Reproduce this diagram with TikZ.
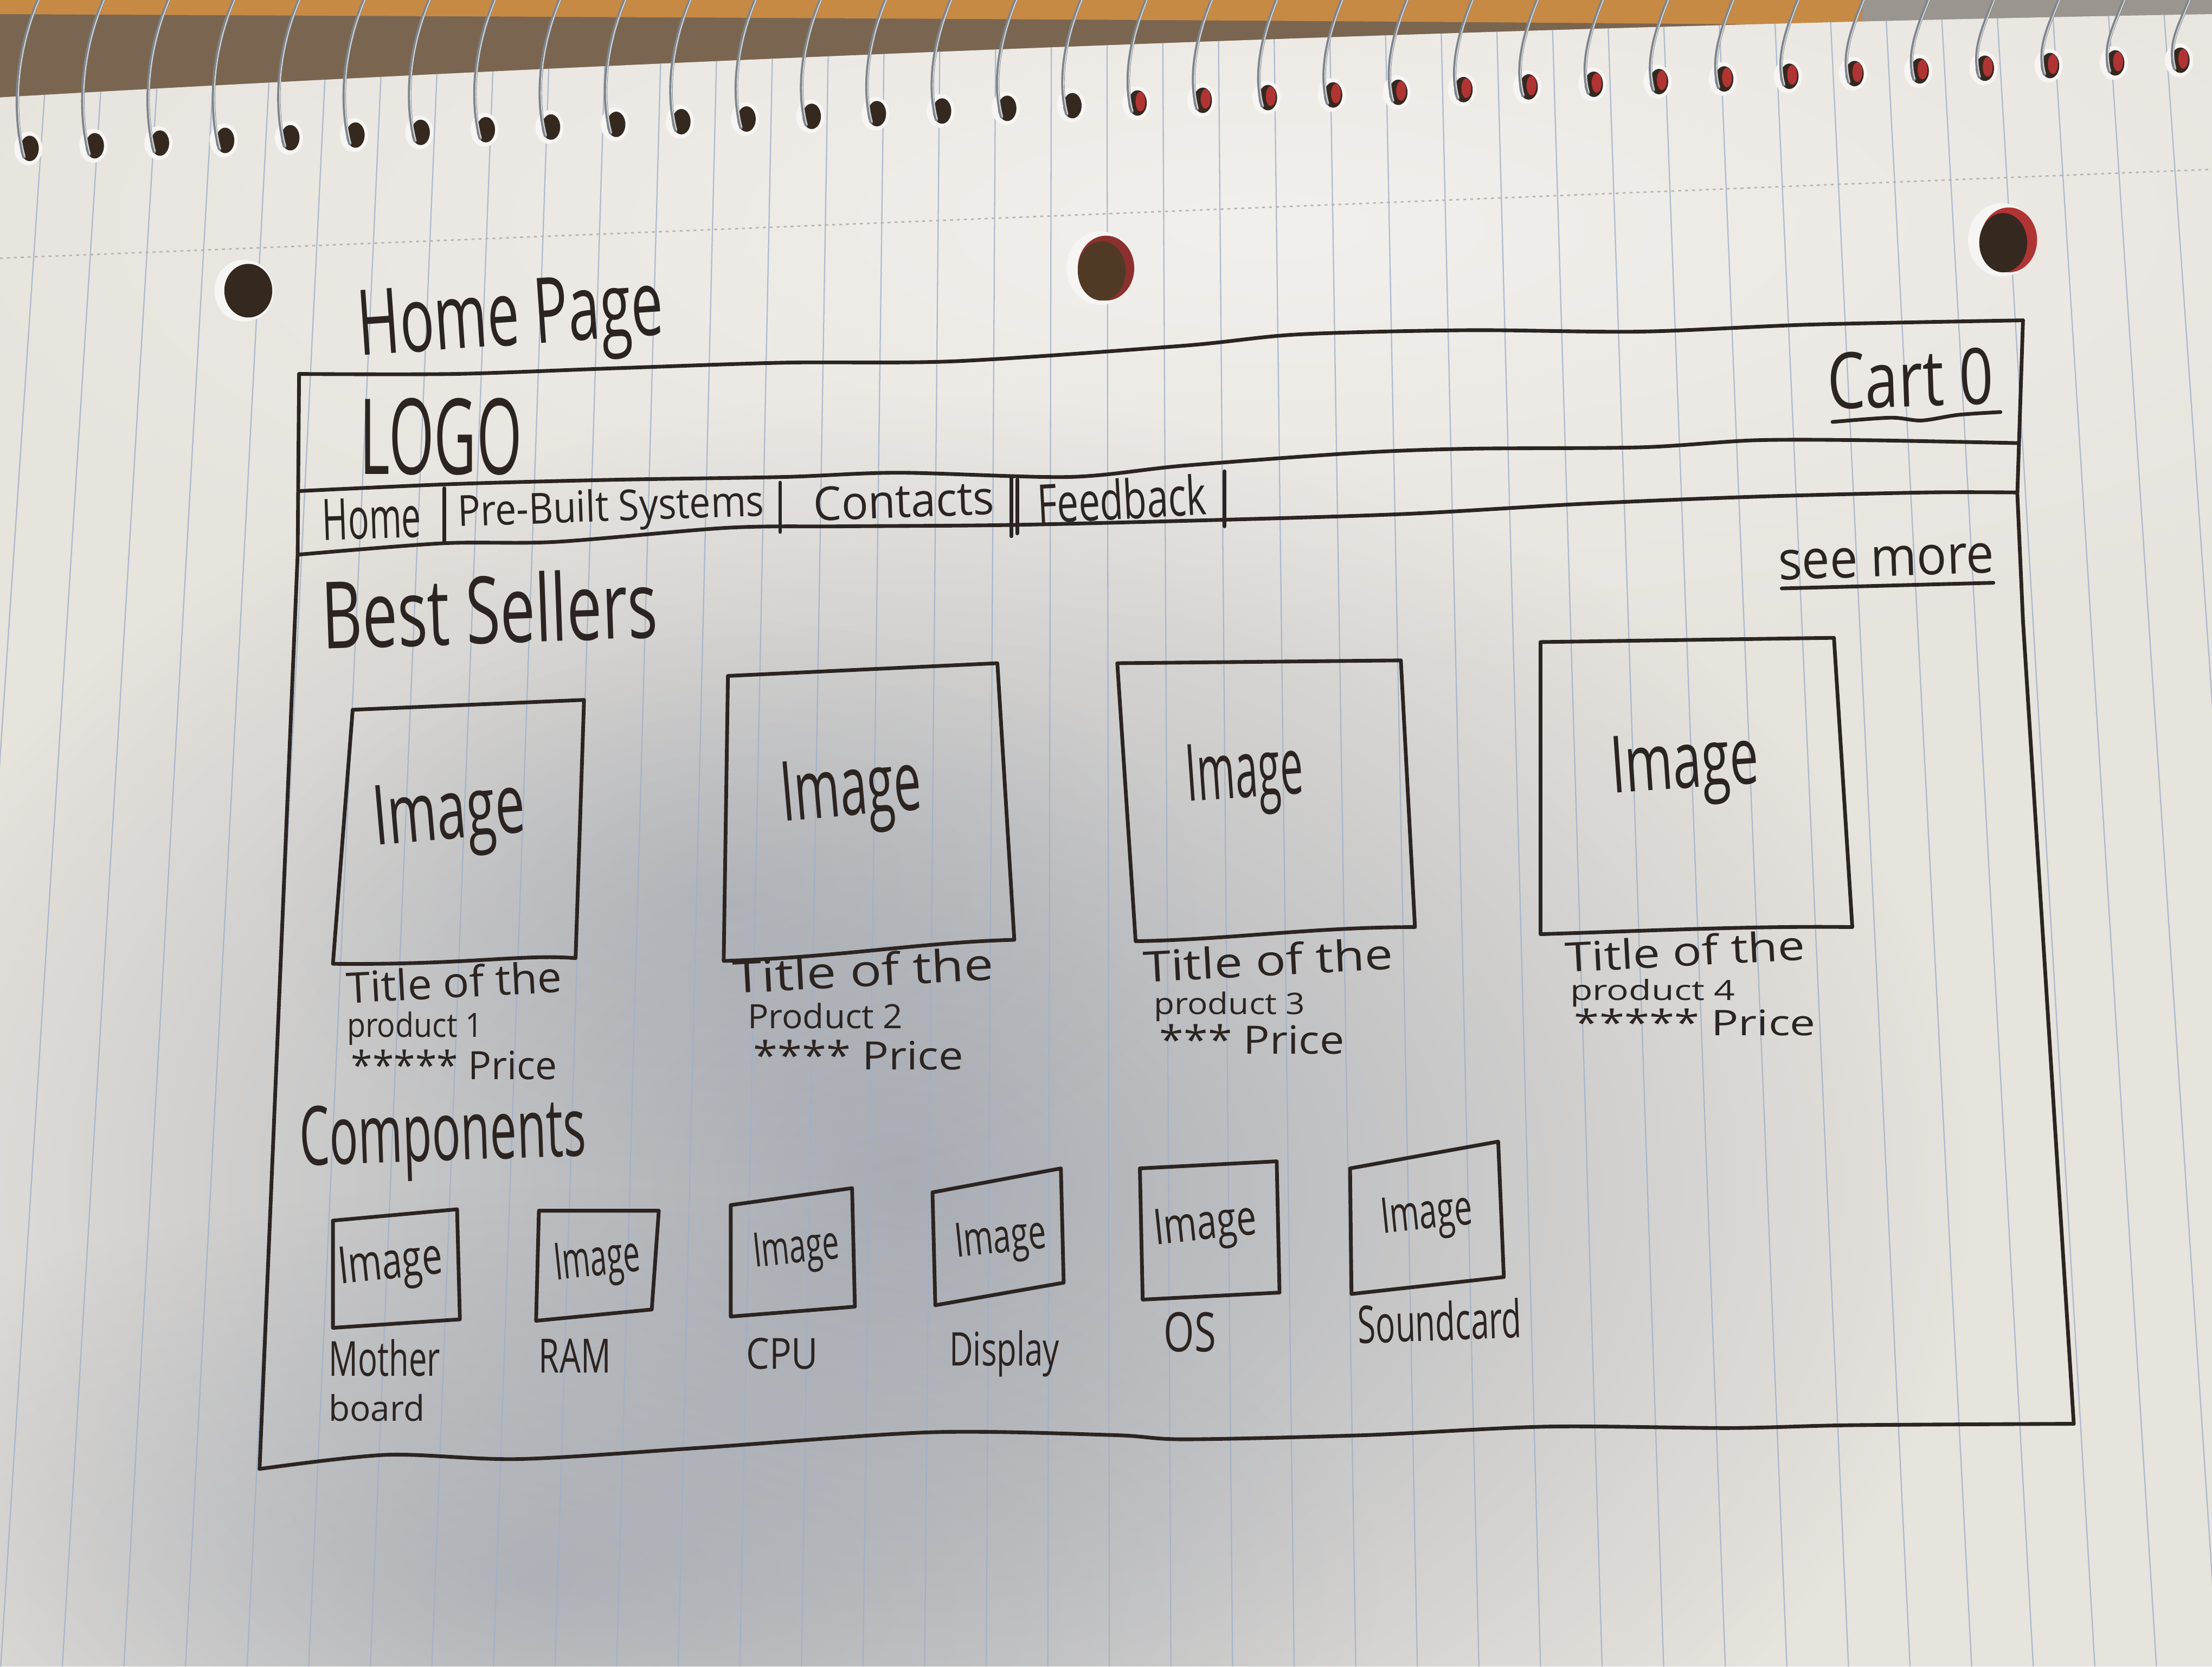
\documentclass[tikz,border=0pt]{standalone}
\usepackage{fontspec}
\usepackage{graphicx}
\newfontfamily\handfont{Open Sans}
\usetikzlibrary{fadings}
\definecolor{ink}{HTML}{2B2421}
\definecolor{paper}{HTML}{E7E3DD}
\definecolor{rulec}{HTML}{9FB0C8}
\definecolor{shadec}{HTML}{7F8898}
\definecolor{desk}{HTML}{7A6650}
\definecolor{wood}{HTML}{C78A44}
\definecolor{stone}{HTML}{9A958F}
\definecolor{wire}{HTML}{7E848B}
\definecolor{holeink}{HTML}{35281F}
\definecolor{holered}{HTML}{B03434}
\definecolor{rim}{HTML}{F6F5F3}
\newlength\pxu
\setlength\pxu{0.02cm}
% handwritten label of a given width and height (in drawing units)
\newcommand\hw[3]{\resizebox{#1\pxu}{#2\pxu}{\handfont #3}}
\tikzfading[name=softblob, inner color=transparent!0, outer color=transparent!100]

\begin{document}
\begin{tikzpicture}[x=0.02cm,y=-0.02cm,
  ink/.style={draw=ink, line width=1.5pt, line cap=round, line join=round},
  hand/.style={inner sep=0pt, outer sep=0pt, anchor=base west, text=ink},
  rulel/.style={draw=rulec, line width=0.5pt, opacity=0.8},
  wireline/.style={draw=wire, line width=1.4pt, line cap=round},
  wireshine/.style={draw=white, line width=0.4pt, opacity=0.7}]

\useasboundingbox (0,0) rectangle (1568,1181);

% ---- desk and binding above the sheet ----
\fill[desk] (0,0) rectangle (1568,90);
\fill[wood] (0,0) -- (1320,0) -- (1320,18) .. controls (900,14) and (400,12) .. (0,10) -- cycle;
\fill[stone] (1320,0) rectangle (1568,18);

% ---- the sheet ----
\fill[paper] (0,69) .. controls (500,40) and (1100,18) .. (1568,10) -- (1568,1181) -- (0,1181) -- cycle;
\begin{scope}
  \clip (0,69) .. controls (500,40) and (1100,18) .. (1568,10) -- (1568,1181) -- (0,1181) -- cycle;
  \fill[white, opacity=0.45, path fading=softblob] (900,160) ellipse [x radius=1000, y radius=330];
  \fill[shadec, opacity=0.6, path fading=softblob] (640,840) ellipse [x radius=760, y radius=560];
  \fill[shadec, opacity=0.4, path fading=softblob] (380,1120) ellipse [x radius=600, y radius=280];
  \fill[shadec, opacity=0.25, path fading=softblob] (520,640) ellipse [x radius=330, y radius=200];
  % ruled lines
  \foreach \k in {-7,...,33}
    \draw[rulel] ({272.5+39.4*\k},0) -- ({218.8+43.66*\k},1181);
  % perforation
  \draw[stone!70, line width=0.6pt, dash pattern=on 1.2pt off 1.6pt] (0,183) -- (1568,120);
\end{scope}

% ---- spiral holes and wires ----
\foreach \i in {0,...,33} {
  \pgfmathsetmacro{\hx}{20+46.2*\i}
  \pgfmathsetmacro{\hy}{106-0.041*\hx}
  \fill[rim] (\hx,\hy) ellipse [x radius=10, y radius=12];
  \fill[holeink] ({\hx+1},\hy) ellipse [x radius=6.5, y radius=9];
}
\foreach \i in {17,...,33} {
  \pgfmathsetmacro{\hx}{20+46.2*\i}
  \pgfmathsetmacro{\hy}{106-0.041*\hx}
  \fill[holered] ({\hx+3},{\hy-1}) ellipse [x radius=3.5, y radius=7];
}
\foreach \i in {0,...,33} {
  \pgfmathsetmacro{\hx}{20+46.2*\i}
  \pgfmathsetmacro{\hy}{106-0.041*\hx}
  \pgfmathsetmacro{\bow}{14*(1-\hx/1568)}
  \draw[wireline] ({\hx+8},-2) .. controls ({\hx-\bow},{\hy*0.45}) and ({\hx-8},{\hy-12}) .. ({\hx-3},{\hy+6});
  \draw[wireshine] ({\hx+8.6},-2) .. controls ({\hx-\bow+0.6},{\hy*0.45}) and ({\hx-7.4},{\hy-12}) .. ({\hx-2.4},{\hy+6});
}

% ---- the three punched holes ----
\fill[rim] (173,206) ellipse [x radius=21, y radius=22];
\fill[holeink] (176,206) ellipse [x radius=17, y radius=19];
\fill[rim] (780,190) ellipse [x radius=24, y radius=26];
\fill[holered!70!holeink] (784,190) ellipse [x radius=20, y radius=23];
\fill[holeink!80!brown] (781,192) ellipse [x radius=17, y radius=21];
\fill[rim] (1419,170) ellipse [x radius=24, y radius=26];
\fill[holered] (1424,170) ellipse [x radius=20, y radius=23];
\fill[holeink] (1420,172) ellipse [x radius=17, y radius=21];

% ---- page frame ----
\draw[ink] plot[smooth, tension=0.5] coordinates {(212,265) (322,265) (435,261) (556,257) (677,256) (839,245) (920,237) (1041,234) (1163,235) (1284,230) (1434,227)};
\draw[ink] plot[smooth, tension=0.5] coordinates {(212,348) (322,343) (435,340) (556,338) (637,335) (758,338) (839,330) (961,321) (1041,318) (1163,317) (1244,312) (1325,312) (1430,314)};
\draw[ink] plot[smooth, tension=0.5] coordinates {(212,393) (314,385) (394,384) (516,374) (597,373) (718,372) (880,368) (1001,364) (1123,357) (1244,352) (1365,349) (1430,349)};
\draw[ink] plot[smooth, tension=0.5] coordinates {(184,1041) (274,1031) (368,1034) (497,1026) (660,1015) (789,1017) (840,1020) (969,1017) (1097,1011) (1226,1012) (1312,1010) (1470,1009)};
\draw[ink] (212,265) -- (211,393) -- (184,1041);
\draw[ink] (1434,227) -- (1430,350) -- (1434,440) -- (1470,1009);

% ---- header ----
\node[hand, rotate=4] (pagetitle) at (255,252) {\hw{217}{46}{Home Page}};
\node[hand] (logo) at (255,336) {\hw{115}{54}{LOGO}};
\node[hand, rotate=2] (cart) at (1296,290) {\hw{118}{40}{Cart 0}};
\draw[ink] plot[smooth, tension=0.5] coordinates {(1299,299) (1340,296) (1362,298) (1388,294) (1418,292)};

% ---- navigation bar ----
\node[hand, rotate=2] (navhome) at (229,383) {\hw{70}{29}{Home}};
\node[hand, rotate=2] (navbuilt) at (325,373) {\hw{217}{23}{Pre-Built Systems}};
\node[hand, rotate=2] (navcontacts) at (577,369) {\hw{128}{24}{Contacts}};
\node[hand, rotate=3] (navfeedback) at (736,371) {\hw{120}{29}{Feedback}};
\draw[ink] (315,346) -- (315,384);
\draw[ink] (553,342) -- (553,377);
\draw[ink] (717,338) -- (717,380);
\draw[ink] (721,340) -- (721,378);
\draw[ink] (868,334) -- (868,373);

% ---- best sellers ----
\node[hand, rotate=2] (bestsellers) at (229,460) {\hw{238}{50}{Best Sellers}};
\node[hand, rotate=2] (seemore) at (1261,411) {\hw{153}{21}{see more}};
\draw[ink] (1263,417) -- (1413,413);

\draw[ink] (250,503) -- (414,496) -- (408,679) .. controls (370,676) and (330,684) .. (236,683) -- cycle;
\draw[ink] (516,479) -- (707,470) -- (719,666) .. controls (650,668) and (600,678) .. (513,681) -- cycle;
\draw[ink] (792,470) -- (993,468) -- (1003,657) .. controls (930,657) and (870,666) .. (805,667) -- cycle;
\draw[ink] (1092,455) -- (1300,452) -- (1313,657) .. controls (1240,656) and (1160,660) .. (1092,662) -- cycle;

\node[hand, rotate=5] (img1) at (266,599) {\hw{108}{42}{Image}};
\node[hand, rotate=5] (img2) at (555,582) {\hw{100}{42}{Image}};
\node[hand, rotate=4] (img3) at (842,568) {\hw{83}{40}{Image}};
\node[hand, rotate=4] (img4) at (1143,562) {\hw{105}{40}{Image}};

\node[hand, rotate=3] (t1a) at (246,711) {\hw{153}{23}{Title of the}};
\node[hand] (t1b) at (246,735) {\hw{96}{18}{product 1}};
\node[hand] (t1c) at (249,765) {\hw{146}{21}{***** Price}};

\node[hand, rotate=3] (t2a) at (520,704) {\hw{185}{24}{Title of the}};
\node[hand] (t2b) at (530,729) {\hw{110}{18}{Product 2}};
\node[hand] (t2c) at (534,758) {\hw{149}{21}{**** Price}};

\node[hand, rotate=3] (t3a) at (811,696) {\hw{177}{23}{Title of the}};
\node[hand] (t3b) at (818,719) {\hw{107}{16}{product 3}};
\node[hand] (t3c) at (822,747) {\hw{131}{21}{*** Price}};

\node[hand, rotate=3] (t4a) at (1110,689) {\hw{170}{22}{Title of the}};
\node[hand] (t4b) at (1113,709) {\hw{117}{15}{product 4}};
\node[hand] (t4c) at (1116,734) {\hw{171}{19}{***** Price}};

% ---- components ----
\node[hand, rotate=2] (components) at (213,826) {\hw{203}{42}{Components}};

\draw[ink] (236,865) -- (324,857) -- (326,935) -- (236,941) -- cycle;
\draw[ink] (382,858) -- (467,858) -- (462,928) -- (380,936) -- cycle;
\draw[ink] (518,854) -- (604,842) -- (606,926) -- (518,933) -- cycle;
\draw[ink] (661,845) -- (752,828) -- (754,909) -- (663,925) -- cycle;
\draw[ink] (808,828) -- (905,823) -- (907,916) -- (810,921) -- cycle;
\draw[ink] (957,828) -- (1062,809) -- (1066,905) -- (958,917) -- cycle;

\node[hand, rotate=6] (cimg1) at (241,910) {\hw{74}{26}{Image}};
\node[hand, rotate=6] (cimg2) at (394,907) {\hw{61}{26}{Image}};
\node[hand, rotate=6] (cimg3) at (535,898) {\hw{61}{24}{Image}};
\node[hand, rotate=6] (cimg4) at (678,891) {\hw{65}{24}{Image}};
\node[hand, rotate=6] (cimg5) at (819,882) {\hw{73}{25}{Image}};
\node[hand, rotate=6] (cimg6) at (980,874) {\hw{65}{25}{Image}};

\node[hand] (lmother) at (233,975) {\hw{79}{26}{Mother}};
\node[hand] (lboard) at (233,1007) {\hw{68}{19}{board}};
\node[hand] (lram) at (382,973) {\hw{51}{24}{RAM}};
\node[hand] (lcpu) at (529,970) {\hw{51}{22}{CPU}};
\node[hand] (ldisplay) at (673,968) {\hw{78}{25}{Display}};
\node[hand] (los) at (825,958) {\hw{37}{28}{OS}};
\node[hand, rotate=2] (lsound) at (963,952) {\hw{116}{28}{Soundcard}};

\end{tikzpicture}
\end{document}
